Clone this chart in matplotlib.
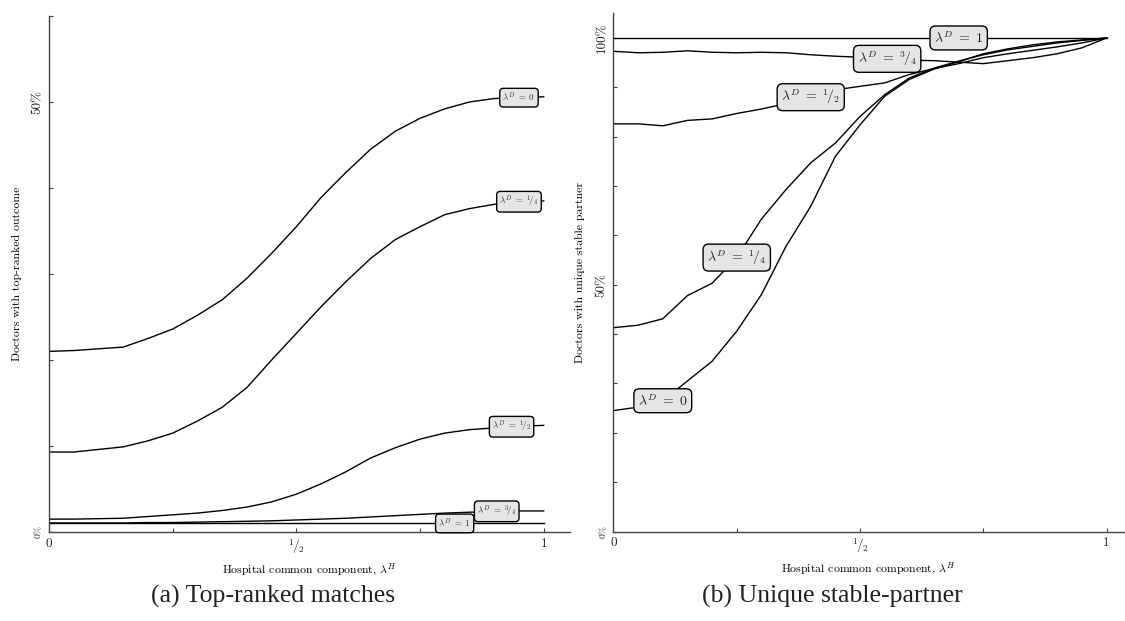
import numpy as np
import matplotlib
matplotlib.use("Agg")
import matplotlib.pyplot as plt

plt.rcParams['font.family'] = ['cmr10']
plt.rcParams['mathtext.fontset'] = 'cm'
plt.rcParams['axes.formatter.use_mathtext'] = True

# lambda^H grid
lam_h = np.linspace(0, 1, 21)

# (a) share of doctors with top-ranked outcome, in %
top_0 = [21.0, 21.1, 21.3, 21.5, 22.5, 23.6, 25.2, 27.0, 29.5, 32.4, 35.5,
         38.9, 41.8, 44.5, 46.6, 48.1, 49.2, 50.0, 50.4, 50.5, 50.6]
top_q = [9.3, 9.3, 9.6, 9.9, 10.6, 11.5, 12.9, 14.5, 16.8, 20.0, 23.1,
         26.2, 29.1, 31.8, 34.0, 35.5, 36.9, 37.6, 38.1, 38.4, 38.5]
top_h = [1.5, 1.5, 1.55, 1.6, 1.8, 2.0, 2.2, 2.5, 2.9, 3.5, 4.4,
         5.6, 7.0, 8.6, 9.8, 10.8, 11.5, 11.9, 12.1, 12.3, 12.4]
top_tq = [1.05, 1.05, 1.05, 1.05, 1.1, 1.1, 1.15, 1.2, 1.25, 1.3, 1.4,
          1.5, 1.6, 1.75, 1.9, 2.05, 2.2, 2.3, 2.4, 2.45, 2.45]
top_1 = [1.0] * 21

# (b) share of doctors with a unique stable partner, in %
uni_0 = [24.5, 25.2, 26.5, 30.5, 34.5, 40.6, 48.0, 57.8, 65.9, 76.0, 82.4,
         88.2, 91.6, 93.7, 95.2, 96.8, 97.8, 98.6, 99.2, 99.6, 100.0]
uni_q = [41.3, 41.8, 43.1, 47.8, 50.3, 55.5, 63.3, 69.3, 74.7, 78.7, 84.1,
         88.5, 91.9, 93.9, 95.3, 96.6, 97.6, 98.3, 99.0, 99.5, 100.0]
uni_h = [82.6, 82.6, 82.2, 83.3, 83.6, 84.7, 85.6, 86.7, 88.0, 89.5, 90.2,
         90.9, 92.6, 93.8, 94.8, 96.0, 96.8, 97.5, 98.2, 99.0, 100.0]
uni_tq = [97.3, 97.0, 97.1, 97.4, 97.1, 97.0, 97.1, 97.0, 96.6, 96.3, 96.1,
          95.8, 95.5, 95.4, 95.1, 94.8, 95.4, 96.0, 96.8, 98.0, 100.0]
uni_1 = [100.0] * 21

labels = [r'$\lambda^D\;=\;0$', r'$\lambda^D\;=\;{}^1\!/_4$', r'$\lambda^D\;=\;{}^1\!/_2$',
          r'$\lambda^D\;=\;{}^3\!/_4$', r'$\lambda^D\;=\;1$']
top_series = [top_0, top_q, top_h, top_tq, top_1]
uni_series = [uni_0, uni_q, uni_h, uni_tq, uni_1]
top_label_x = [0.95, 0.95, 0.935, 0.905, 0.82]
uni_label_x = [0.10, 0.25, 0.40, 0.555, 0.70]

xtick_labels = ['0', '', r'${}^1\!/_2$', '', '1']

fig = plt.figure(figsize=(11.25, 6.21), dpi=100)
ax1 = fig.add_axes([0.0436, 0.1433, 0.463, 0.831])
ax2 = fig.add_axes([0.5453, 0.1441, 0.4537, 0.8345])

box = dict(boxstyle='round,pad=0.3,rounding_size=0.4', fc='#e5e5e5', ec='black', lw=1.0)


def style(ax, ymax, ylab, ytick_labels, xmax, ypad):
    ax.set_xlim(0, xmax)
    ax.set_ylim(0, ymax)
    for s in ['top', 'right']:
        ax.spines[s].set_visible(False)
    for s in ['left', 'bottom']:
        ax.spines[s].set_color('#444444')
        ax.spines[s].set_linewidth(1.0)
    ax.set_xticks([0, 0.25, 0.5, 0.75, 1])
    ax.set_xticklabels(xtick_labels)
    ax.set_yticks(np.arange(0, ymax + 0.01, 10))
    ax.set_yticklabels(ytick_labels, rotation=90, va='center')
    ax.tick_params(direction='in', length=3, width=0.8, colors='#444444',
                   labelcolor='#222222', labelsize=9.5, pad=4)
    ax.set_xlabel(r'Hospital common component, $\lambda^H$', fontsize=8.5, labelpad=4)
    ax.set_ylabel(ylab, fontsize=8.5, labelpad=ypad)


for vals, lab, lx in zip(top_series, labels, top_label_x):
    ax1.plot(lam_h, vals, color='black', lw=1.0)
    ax1.text(lx, np.interp(lx, lam_h, vals), lab, fontsize=6.5, color='#333333',
             ha='center', va='center', bbox=box)
style(ax1, 60, 'Doctors with top-ranked outcome',
      ['0%', '', '', '', '', '50%', ''], 1.053, 7)
ax1.get_yticklabels()[0].set_fontsize(7)

for vals, lab, lx in zip(uni_series, labels, uni_label_x):
    ax2.plot(lam_h, vals, color='black', lw=1.0)
    ax2.text(lx, np.interp(lx, lam_h, vals), lab, fontsize=10, color='#222222',
             ha='center', va='center', bbox=box)
style(ax2, 105, 'Doctors with unique stable partner',
      ['0%', '', '', '', '', '50%', '', '', '', '', '100%'], 1.035, 8)
ax2.get_yticklabels()[0].set_fontsize(7)

fig.text(0.243, 0.039, '(a) Top-ranked matches', fontsize=18.5, ha='center',
         va='center', family='Liberation Serif', color='#222222')
fig.text(0.74, 0.039, '(b) Unique stable-partner', fontsize=18.5, ha='center',
         va='center', family='Liberation Serif', color='#222222')

fig.savefig('out.png', dpi=100)
